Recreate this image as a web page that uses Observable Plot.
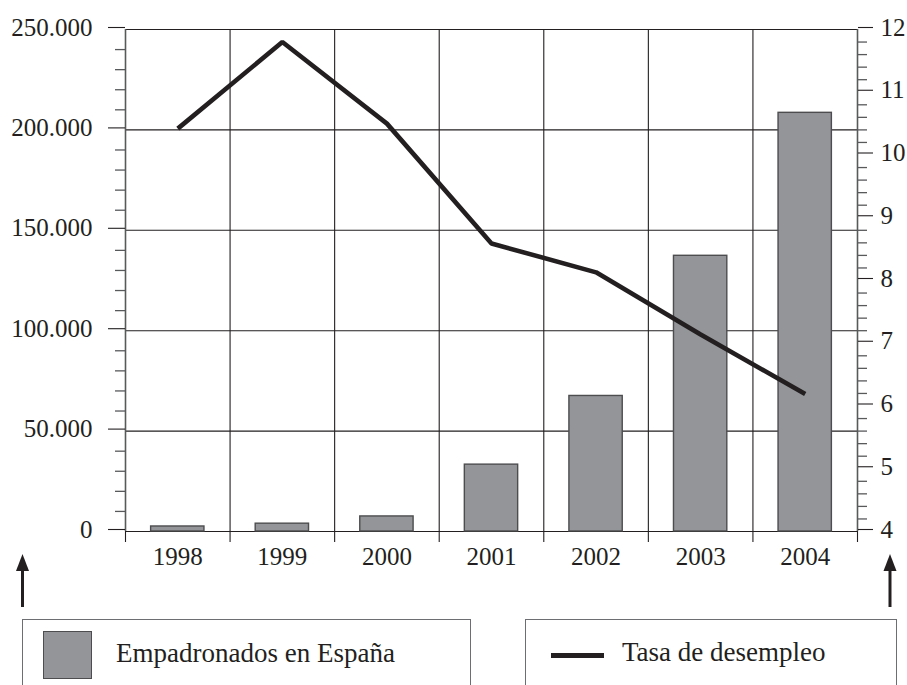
<!DOCTYPE html>
<html>
<head>
<meta charset="utf-8">
<script src="https://cdn.jsdelivr.net/npm/d3@7"></script>
<script src="https://cdn.jsdelivr.net/npm/@observablehq/plot@0.6"></script>
<style>
  body { margin: 0; background: #fff; }
  #wrap { position: relative; width: 907px; height: 685px; overflow: hidden; font-family: "Liberation Serif", serif; color: #231f20; background: #fff; }
  #wrap svg.plot { position: absolute; left: 0; top: 0; }
  .box { position: absolute; border: 1.3px solid #6d6e71; box-sizing: border-box; background: #fff; }
  .lbl { position: absolute; font-size: 27px; line-height: 1; white-space: nowrap; color: #231f20; font-family: "Liberation Serif", serif; }
  .sw-bar { position: absolute; background: #939598; border: 1.5px solid #4d4d4f; box-sizing: border-box; }
  .sw-line { position: absolute; background: #231f20; }
  #deco { position: absolute; left: 0; top: 0; pointer-events: none; }
</style>
</head>
<body>
<div id="wrap"></div>
<script>
// ---- data ----
const years = [1998, 1999, 2000, 2001, 2002, 2003, 2004];
const empadronados = [2500, 3900, 7500, 33300, 67500, 137300, 208500];
const desempleo = [10.42, 11.8, 10.5, 8.59, 8.13, 7.14, 6.19];
const leftTicks = [0, 50000, 100000, 150000, 200000, 250000];
const rightTicks = [4, 5, 6, 7, 8, 9, 10, 11, 12];
const seriesNames = ["Empadronados en España", "Tasa de desempleo"];

// ---- derived ----
const rows = years.map((y, i) => ({ year: y, emp: empadronados[i], rate: desempleo[i] }));
const rMin = rightTicks[0], rMax = rightTicks[rightTicks.length - 1];
const lMax = leftTicks[leftTicks.length - 1];
const toLeft = v => (v - rMin) / (rMax - rMin) * lMax;
const fromLeft = v => v / lMax * (rMax - rMin) + rMin;
const bounds = years.map(y => y - 0.5).concat([years[years.length - 1] + 0.5]);
const leftMinor = d3.range(0, lMax + 1, 10000).filter(v => v % 50000 !== 0);
const rightMinor = d3.range(0, (rMax - rMin) * 5 + 1).map(i => rMin + i * 0.2).filter(v => Math.abs(v - Math.round(v)) > 1e-6).map(toLeft);
const fmtThousands = d => d3.format(",.0f")(d).replace(/,/g, ".");
const ink = "#231f20";
const axisGray = "#58595b";
const halfBar = 0.255;

const chart = Plot.plot({
  width: 907,
  height: 685,
  marginTop: 29,
  marginBottom: 154,
  marginLeft: 125,
  marginRight: 50,
  x: { type: "linear", domain: [bounds[0], bounds[bounds.length - 1]], axis: null, label: null },
  y: { domain: [0, lMax], axis: null, label: null },
  style: { fontFamily: '"Liberation Serif", serif', fontSize: "25px", color: ink, background: "transparent", overflow: "visible" },
  marks: [
    // horizontal grid
    Plot.ruleY(leftTicks, { stroke: ink, strokeWidth: 1.1 }),
    // vertical grid at category boundaries
    Plot.ruleX(bounds.slice(1, -1), { y1: 0, y2: lMax, stroke: ink, strokeWidth: 1.1 }),
    Plot.ruleX([bounds[0], bounds[bounds.length - 1]], { y1: 0, y2: lMax, stroke: axisGray, strokeWidth: 1.6 }),
    // tick extensions below baseline
    Plot.axisX({ ticks: bounds, tickSize: 11, tickFormat: () => "", label: null, stroke: ink, strokeWidth: 1.1 }),
    // year labels
    Plot.axisX({ ticks: years, tickSize: 0, tickPadding: 16, tickFormat: d => String(d), label: null, fill: ink }),
    // left axis
    Plot.axisY({ anchor: "left", ticks: leftTicks, tickSize: 17, tickPadding: 16, tickFormat: fmtThousands, label: null, stroke: ink, strokeWidth: 1.1, dy: -2 }),
    Plot.axisY({ anchor: "left", ticks: leftMinor, tickSize: 10, tickFormat: () => "", label: null, stroke: axisGray, strokeWidth: 1.3 }),
    // right axis
    Plot.axisY({ anchor: "right", ticks: rightTicks.map(toLeft), tickSize: 15, tickPadding: 8, tickFormat: v => String(Math.round(fromLeft(v))), label: null, stroke: ink, strokeWidth: 1.1, dy: -2 }),
    Plot.axisY({ anchor: "right", ticks: rightMinor, tickSize: 9, tickFormat: () => "", label: null, stroke: axisGray, strokeWidth: 1.3 }),
    // bars
    Plot.rectY(rows, { x1: d => d.year - halfBar, x2: d => d.year + halfBar, y1: 0, y2: "emp", fill: "#939598", stroke: "#4d4d4f", strokeWidth: 1.4 }),
    // unemployment line
    Plot.line(rows, { x: "year", y: d => toLeft(d.rate), stroke: ink, strokeWidth: 4.6, strokeLinejoin: "miter", strokeLinecap: "butt" })
  ]
});
chart.classList.add("plot");

const wrap = document.getElementById("wrap");
wrap.appendChild(chart);

// legend boxes
function el(cls, css, text) {
  const d = document.createElement("div");
  d.className = cls;
  Object.assign(d.style, css);
  if (text) d.textContent = text;
  wrap.appendChild(d);
  return d;
}
el("box", { left: "22px", top: "619px", width: "449px", height: "120px" });
el("sw-bar", { left: "43px", top: "631px", width: "49px", height: "48px" });
el("lbl", { left: "116px", top: "640px" }, seriesNames[0]);
el("box", { left: "525px", top: "619px", width: "372px", height: "120px" });
el("sw-line", { left: "551px", top: "653px", width: "53px", height: "5px" });
el("lbl", { left: "622px", top: "639px" }, seriesNames[1]);

// decorative arrows
const deco = d3.select(wrap).append("svg").attr("id", "deco").attr("width", 907).attr("height", 685);
[22.5, 890].forEach(cx => {
  deco.append("line").attr("x1", cx).attr("x2", cx).attr("y1", 566).attr("y2", 607).attr("stroke", ink).attr("stroke-width", 3);
  deco.append("path").attr("d", `M${cx},554 L${cx - 6.5},571 L${cx + 6.5},571 Z`).attr("fill", ink);
});
</script>
</body>
</html>
